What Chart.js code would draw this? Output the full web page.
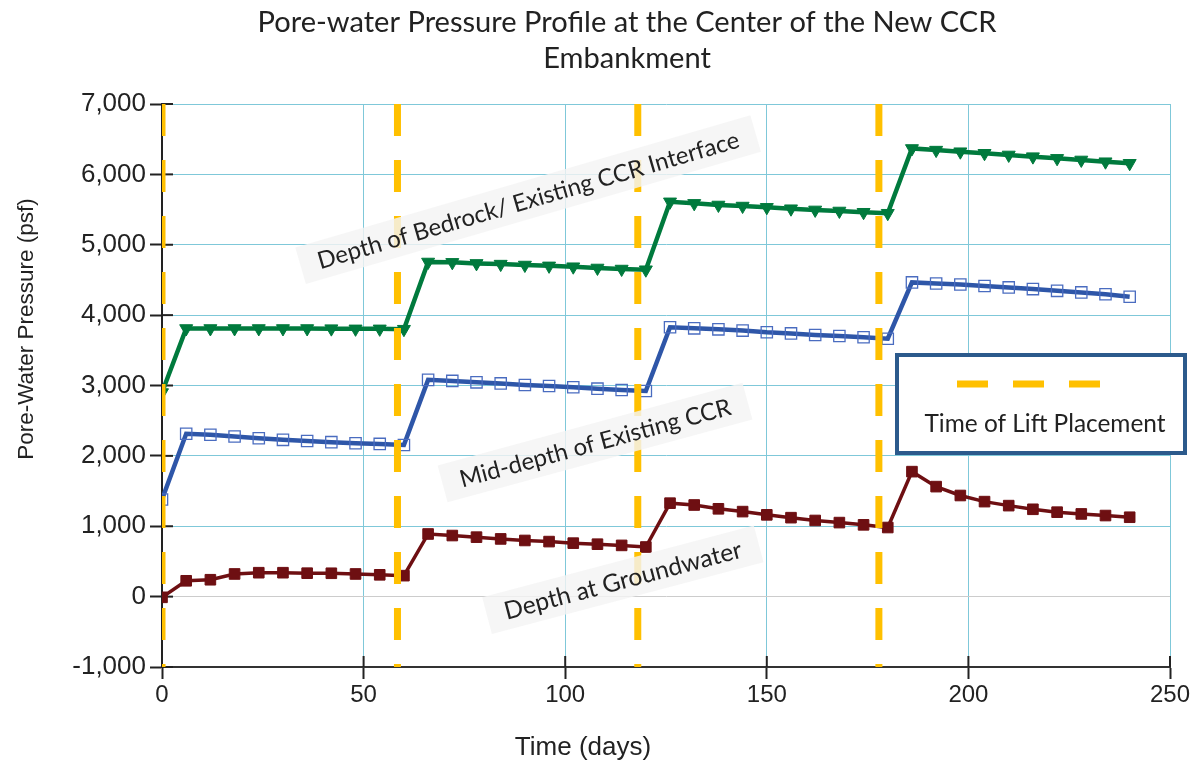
<!DOCTYPE html>
<html><head><meta charset="utf-8">
<script src="https://cdn.jsdelivr.net/npm/chart.js@4.4.0/dist/chart.umd.min.js"></script>
<style>html,body{margin:0;padding:0;background:#fff}#wrap{width:1197px;height:762px}</style>
</head><body><div id="wrap"><canvas id="c" width="1197" height="762"></canvas></div>
<script>
// ---------- data ----------
const days = [0,6,12,18,24,30,36,42,48,54,60,66,72,78,84,90,96,102,108,114,120,126,132,138,144,150,156,162,168,174,180,186,192,198,204,210,216,222,228,234,240];
const bedrock = [2900,
  3810,3810,3810,3810,3810,3810,3808,3805,3805,3800,
  4755,4750,4735,4725,4712,4700,4688,4670,4655,4645,
  5610,5588,5565,5550,5532,5512,5495,5480,5462,5448,
  6368,6345,6322,6300,6276,6252,6228,6205,6180,6158];
const midDepth = [1380,
  2315,2300,2275,2250,2228,2212,2195,2180,2170,2155,
  3080,3065,3045,3030,3008,2993,2975,2955,2937,2922,
  3828,3812,3798,3780,3756,3740,3718,3703,3685,3665,
  4465,4450,4436,4414,4394,4370,4345,4323,4296,4262];
const groundwater = [-10,
  225,240,322,340,340,333,332,322,310,298,
  890,868,845,820,798,782,760,745,728,705,
  1328,1302,1248,1208,1162,1122,1082,1052,1020,982,
  1776,1563,1437,1350,1293,1241,1200,1175,1152,1128];
const liftDays = [0, 58.4, 118, 177.8];
const xTicks = [0,50,100,150,200,250];
const yTicks = [-1000,0,1000,2000,3000,4000,5000,6000,7000];
const seriesNames = ['Depth of Bedrock/ Existing CCR Interface','Mid-depth of Existing CCR','Depth at Groundwater'];
const titleLines = ['Pore-water Pressure Profile at the Center of the New CCR','Embankment'];
const xTitle = 'Time (days)';
const yTitle = 'Pore-Water Pressure (psf)';
const legendLabel = 'Time of Lift Placement';
// label anchors in data units (day, psf)
const labelDay = [90.8, 107.4, 114.3];
const labelPsf = [5640, 2190, 240];

// ---------- styling ----------
const GOLD = '#FFC000';
const GRID = '#7fc8d9';
const CAL = 'Lato, "Open Sans", sans-serif';
const ARI = '"Liberation Sans", Arial, sans-serif';

function fitSize(ctx, text, family, target){
  ctx.font = '100px ' + family;
  return 100 * target / ctx.measureText(text).width;
}

const labelWidths = [438, 280, 245];
const labelAngles = [-16.2, -15.2, -14.8];

const overlay = {
  id: 'overlay',
  beforeDatasetsDraw(chart){
    const {ctx, scales:{x, y}} = chart;
    ctx.save();
    // inner halves of tick marks
    ctx.strokeStyle = '#222'; ctx.lineWidth = 2;
    yTicks.forEach(v => { const py = y.getPixelForValue(v); ctx.beginPath(); ctx.moveTo(x.left, py); ctx.lineTo(x.left + 11, py); ctx.stroke(); });
    xTicks.forEach(v => { const px = x.getPixelForValue(v); ctx.beginPath(); ctx.moveTo(px, y.bottom); ctx.lineTo(px, y.bottom - 11); ctx.stroke(); });
    ctx.restore();
  },
  afterDatasetsDraw(chart){
    const {ctx, scales:{x, y}} = chart;
    ctx.save();
    // rotated series labels
    seriesNames.forEach((t, i) => {
      const size = fitSize(ctx, t, CAL, labelWidths[i]);
      ctx.save();
      ctx.translate(x.getPixelForValue(labelDay[i]), y.getPixelForValue(labelPsf[i]));
      ctx.rotate(labelAngles[i] * Math.PI / 180);
      ctx.font = size.toFixed(2) + 'px ' + CAL;
      const w = ctx.measureText(t).width;
      ctx.fillStyle = 'rgba(244,244,244,0.82)';
      ctx.fillRect(-w/2 - 18, -19, w + 36, 38);
      ctx.fillStyle = '#222';
      ctx.textAlign = 'center'; ctx.textBaseline = 'middle';
      ctx.fillText(t, 0, 1);
      ctx.restore();
    });
    ctx.restore();
  },
  afterDraw(chart){
    const {ctx} = chart;
    ctx.save();
    // chart title
    const ts = fitSize(ctx, titleLines[0], CAL, 739);
    ctx.font = ts.toFixed(2) + 'px ' + CAL;
    ctx.fillStyle = '#222'; ctx.textAlign = 'center'; ctx.textBaseline = 'alphabetic';
    ctx.fillText(titleLines[0], 627, 32);
    ctx.fillText(titleLines[1], 627, 68);
    // axis titles
    ctx.font = '26px ' + ARI;
    ctx.fillText(xTitle, 583, 755);
    ctx.save();
    ctx.translate(33, 329); ctx.rotate(-Math.PI/2);
    ctx.font = '22.5px ' + ARI;
    ctx.fillText(yTitle, 0, 0);
    ctx.restore();
    // legend box
    ctx.fillStyle = '#fff';
    ctx.fillRect(897, 355, 288, 98);
    ctx.strokeStyle = '#2C5A8C'; ctx.lineWidth = 4;
    ctx.strokeRect(897, 355, 288, 98);
    ctx.strokeStyle = GOLD; ctx.lineWidth = 7; ctx.setLineDash([31, 25]);
    ctx.beginPath(); ctx.moveTo(957, 384); ctx.lineTo(1100, 384); ctx.stroke();
    ctx.setLineDash([]);
    const ls = fitSize(ctx, legendLabel, CAL, 241);
    ctx.font = ls.toFixed(2) + 'px ' + CAL;
    ctx.fillStyle = '#222';
    ctx.fillText(legendLabel, 1045, 432);
    ctx.restore();
  }
};

const toXY = arr => arr.map((v, i) => ({x: days[i], y: v}));
const yMin = yTicks[0], yMax = yTicks[yTicks.length - 1];

const datasets = [
  ...liftDays.map(d => ({
    label: legendLabel, data: [{x: d, y: yMax}, {x: d, y: yMin}],
    borderColor: GOLD, borderWidth: 7, borderDash: [32, 24], pointRadius: 0, order: 0
  })),
  { label: seriesNames[0], data: toXY(bedrock), borderColor: '#007A3D', backgroundColor: '#007A3D',
    borderWidth: 4.5, pointStyle: 'triangle', rotation: 180, pointRadius: 7.5, pointBorderWidth: 1, order: 1 },
  { label: seriesNames[1], data: toXY(midDepth), borderColor: '#2E56A8', backgroundColor: 'rgba(255,255,255,0)',
    pointBorderColor: '#4A6CC0', borderWidth: 4.5, pointStyle: 'rect', pointRadius: 8, pointBorderWidth: 1.3, order: 1 },
  { label: seriesNames[2], data: toXY(groundwater), borderColor: '#6E0F12', backgroundColor: '#6E0F12',
    borderWidth: 3.5, pointStyle: 'rect', pointRadius: 7.5, pointBorderWidth: 1, order: 1 }
];

new Chart(document.getElementById('c'), {
  type: 'line',
  data: { datasets },
  options: {
    responsive: false, animation: false,
    layout: { padding: { top: 104, right: 27, bottom: 0, left: 0 } },
    plugins: { legend: { display: false }, title: { display: false }, tooltip: { enabled: false } },
    elements: { line: { tension: 0 } },
    scales: {
      x: {
        type: 'linear', min: xTicks[0], max: xTicks[xTicks.length - 1],
        afterBuildTicks: s => { s.ticks = xTicks.map(v => ({value: v})); },
        afterFit: s => { s.height = 95; },
        ticks: { font: { family: ARI, size: 24 }, color: '#222', padding: 2, maxRotation: 0 },
        grid: { color: GRID, lineWidth: 1, tickLength: 12, tickColor: '#222', tickWidth: 2 },
        border: { display: true, color: '#333', width: 2 }
      },
      y: {
        type: 'linear', min: yMin, max: yMax,
        afterBuildTicks: s => { s.ticks = yTicks.map(v => ({value: v})); },
        afterFit: s => { s.width = 162; },
        ticks: { font: { family: ARI, size: 26 }, color: '#222', padding: 4,
                 callback: v => v.toLocaleString('en-US') },
        grid: { color: c => (c.tick && c.tick.value === 0) ? '#cccccc' : GRID, lineWidth: 1,
                tickLength: 12, tickColor: '#222', tickWidth: 2 },
        border: { display: true, color: '#222', width: 2 }
      }
    }
  },
  plugins: [overlay]
});
</script></body></html>
